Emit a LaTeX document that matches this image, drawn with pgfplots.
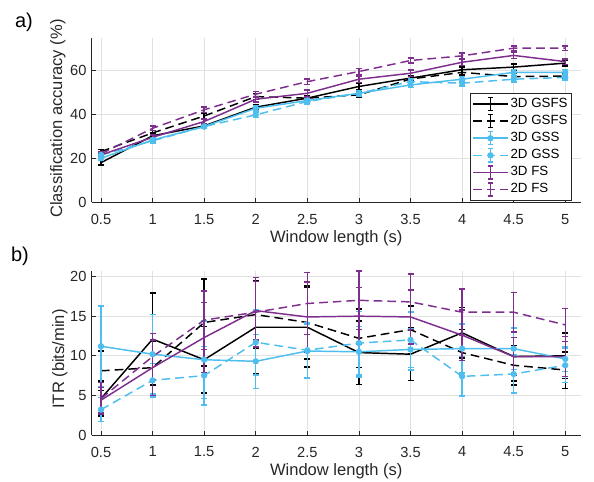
\documentclass[border=0pt]{standalone}
\usepackage{pgfplots}
\pgfplotsset{compat=1.18}
\usepackage{pgfplotstable}
\usepackage{fontspec}
\setmainfont{Liberation Sans}
\definecolor{mcyan}{RGB}{77,190,238}
\definecolor{mpurple}{RGB}{126,47,142}
\definecolor{axgray}{RGB}{38,38,38}
\definecolor{gridgray}{RGB}{225,225,225}

% top: classification accuracy
\pgfplotstableread{
x y e
0.5 18.0 1.0
1 30.2 1.2
1.5 34.7 1.2
2 43.2 1.3
2.5 47.3 1.3
3 52.6 1.5
3.5 56.4 1.3
4 60.2 1.2
4.5 61.4 1.5
5 63.2 1.2
}\accAthreeGSFS
\pgfplotstableread{
x y e
0.5 23.0 1.0
1 31.5 1.2
1.5 39.2 1.3
2 48.0 1.3
2.5 47.3 1.2
3 48.8 1.3
3.5 56.0 1.2
4 59.0 1.2
4.5 57.1 1.3
5 57.3 1.3
}\accAtwoGSFS
\pgfplotstableread{
x y e
0.5 20.0 1.0
1 28.3 1.0
1.5 34.4 1.0
2 42.7 1.2
2.5 46.2 1.2
3 49.5 1.2
3.5 53.3 1.2
4 55.9 1.3
4.5 59.0 1.3
5 59.0 1.2
}\accAthreeGSS
\pgfplotstableread{
x y e
0.5 21.5 1.0
1 27.9 1.0
1.5 34.4 1.0
2 39.7 1.2
2.5 45.8 1.2
3 49.5 1.2
3.5 54.8 1.2
4 54.1 1.3
4.5 55.9 1.2
5 56.7 1.2
}\accAtwoGSS
\pgfplotstableread{
x y e
0.5 21.5 1.0
1 29.5 1.1
1.5 36.7 1.2
2 46.8 1.3
2.5 49.5 1.6
3 55.9 1.4
3.5 58.6 1.4
4 63.6 1.4
4.5 66.7 1.5
5 63.9 1.2
}\accAthreeFS
\pgfplotstableread{
x y e
0.5 22.0 1.0
1 33.6 1.1
1.5 42.0 1.2
2 49.1 1.2
2.5 54.8 1.2
3 59.4 1.3
3.5 64.4 1.2
4 66.5 1.2
4.5 70.0 1.0
5 70.0 1.0
}\accAtwoFS

% bottom: ITR
\pgfplotstableread{
x y e
0.5 4.6 2.2
1 12.1 5.8
1.5 9.5 4.2
2 13.6 5.9
2.5 13.6 5.0
3 10.4 4.0
3.5 10.2 3.3
4 12.9 3.2
4.5 9.9 3.1
5 10.0 2.9
}\itrthreeGSFS
\pgfplotstableread{
x y e
0.5 8.1 2.5
1 8.5 3.3
1.5 14.2 5.5
2 15.2 4.2
2.5 14.2 4.6
3 12.2 3.7
3.5 13.3 3.0
4 10.4 2.9
4.5 8.8 2.5
5 8.2 2.3
}\itrtwoGSFS
\pgfplotstableread{
x y e
0.5 11.2 5.1
1 10.2 5.0
1.5 9.5 4.9
2 9.3 3.4
2.5 10.6 3.4
3 10.5 3.2
3.5 10.8 2.6
4 10.9 3.1
4.5 10.9 2.6
5 9.6 1.6
}\itrthreeGSS
\pgfplotstableread{
x y e
0.5 3.2 1.5
1 6.9 2.1
1.5 7.5 3.7
2 11.7 4.1
2.5 10.7 3.5
3 11.6 4.0
3.5 12.0 3.5
4 7.4 2.5
4.5 7.7 2.4
5 8.8 2.2
}\itrtwoGSS
\pgfplotstableread{
x y e
0.5 4.4 1.6
1 8.5 3.5
1.5 12.3 4.4
2 15.7 3.7
2.5 14.9 4.4
3 15.0 3.6
3.5 14.9 3.4
4 12.6 3.2
4.5 9.9 2.4
5 9.9 2.5
}\itrthreeFS
\pgfplotstableread{
x y e
0.5 4.6 2.0
1 9.9 2.9
1.5 14.5 3.7
2 15.5 4.4
2.5 16.6 3.9
3 17.0 3.7
3.5 16.8 3.5
4 15.5 2.9
4.5 15.5 2.5
5 13.9 2.1
}\itrtwoFS

\pgfplotsset{
  myaxis/.style={
    scale only axis, width=366.75pt, height=123pt, anchor=south west,
    xmin=0.41, xmax=5.15,
    xtick={0.5,1,1.5,2,2.5,3,3.5,4,4.5,5},
    xticklabels={0.5,1,1.5,2,2.5,3,3.5,4,4.5,5},
    axis x line*=bottom, axis y line*=left,
    axis line style={axgray, line width=0.5pt, -},
    tick style={axgray, line width=0.5pt}, tick align=inside, major tick length=3.2pt,
    grid=major, grid style={gridgray, line width=0.5pt},
    tick label style={font=\fontsize{11}{13}\selectfont, text=axgray},
    xticklabel style={inner sep=0pt, anchor=north, yshift=-8.7pt},
    yticklabel style={inner sep=0pt, anchor=east, xshift=-3.75pt},
    label style={font=\fontsize{12.4}{14}\selectfont, text=axgray},
    xlabel style={at={(axis description cs:0.5,-0.2195)}, anchor=center},
    /pgf/number format/assume math mode=true,
    every axis plot/.append style={line width=1.1pt},
    error bars/y dir=both, error bars/y explicit,
    error bars/error bar style={solid, line width=1.1pt},
    error bars/error mark options={rotate=90, mark size=2.25pt, solid, line width=1.1pt},
    legend image code/.code={
      \draw[##1, mark repeat=2, mark phase=2] plot coordinates {(0pt,0pt) (13pt,0pt) (26pt,0pt)};
      \draw[##1, solid, mark=none] (13pt,-4.9pt) -- (13pt,4.9pt)
        (11.3pt,-4.9pt) -- (14.7pt,-4.9pt) (11.3pt,4.9pt) -- (14.7pt,4.9pt);
    },
  },
  sGSFSa/.style={black, solid, mark=none},
  sGSFSb/.style={black, dash pattern=on 6.5pt off 3.75pt, mark=none},
  sGSSa/.style={mcyan, solid, mark=*, mark size=1.8pt, mark options={solid, fill=mcyan}},
  sGSSb/.style={mcyan, dash pattern=on 6.5pt off 3.75pt, mark=*, mark size=1.8pt, mark options={solid, fill=mcyan}},
  sFSa/.style={mpurple, solid, mark=none},
  sFSb/.style={mpurple, dash pattern=on 6.5pt off 3.75pt, mark=none},
}

\begin{document}
\begin{tikzpicture}
\useasboundingbox (0,0) rectangle (445.5pt,361.5pt);

\begin{axis}[myaxis, at={(68.8pt,209.8pt)},
  ymin=0, ymax=74.5, ytick={0,20,40,60},
  xlabel={Window length (s)},
  ylabel={Classification accuracy (\%)},
  ylabel style={at={(axis description cs:-0.0695,0.51)}, anchor=center},
  legend style={at={(0.982,0.012)}, anchor=south east, draw=axgray, line width=0.5pt,
    font=\fontsize{10}{12}\selectfont, inner sep=1.5pt, row sep=0pt,
    nodes={inner sep=1.5pt, text height=7.5pt, text depth=2.3pt}},
  legend cell align=left,
]
\addplot[sGSFSa] table[x=x, y=y, y error=e] {\accAthreeGSFS};
\addlegendentry{3D GSFS}
\addplot[sGSFSb] table[x=x, y=y, y error=e] {\accAtwoGSFS};
\addlegendentry{2D GSFS}
\addplot[sGSSa] table[x=x, y=y, y error=e] {\accAthreeGSS};
\addlegendentry{3D GSS}
\addplot[sGSSb] table[x=x, y=y, y error=e] {\accAtwoGSS};
\addlegendentry{2D GSS}
\addplot[sFSa] table[x=x, y=y, y error=e] {\accAthreeFS};
\addlegendentry{3D FS}
\addplot[sFSb] table[x=x, y=y, y error=e] {\accAtwoFS};
\addlegendentry{2D FS}
\end{axis}

\begin{axis}[myaxis, at={(68.8pt,35.25pt)},
  ymin=0, ymax=20.7, ytick={0,5,10,15,20},
  xlabel={Window length (s)},
  ylabel={ITR (bits/min)},
  ylabel style={at={(axis description cs:-0.0654,0.463)}, anchor=center},
]
\addplot[sGSFSa] table[x=x, y=y, y error=e] {\itrthreeGSFS};
\addplot[sGSFSb] table[x=x, y=y, y error=e] {\itrtwoGSFS};
\addplot[sGSSa] table[x=x, y=y, y error=e] {\itrthreeGSS};
\addplot[sGSSb] table[x=x, y=y, y error=e] {\itrtwoGSS};
\addplot[sFSa] table[x=x, y=y, y error=e] {\itrthreeFS};
\addplot[sFSb] table[x=x, y=y, y error=e] {\itrtwoFS};
\end{axis}

\node[font=\fontsize{15}{18}\selectfont, text=black] at (18pt,345pt) {a)};
\node[font=\fontsize{15}{18}\selectfont, text=black] at (15pt,169.5pt) {b)};
\end{tikzpicture}
\end{document}
